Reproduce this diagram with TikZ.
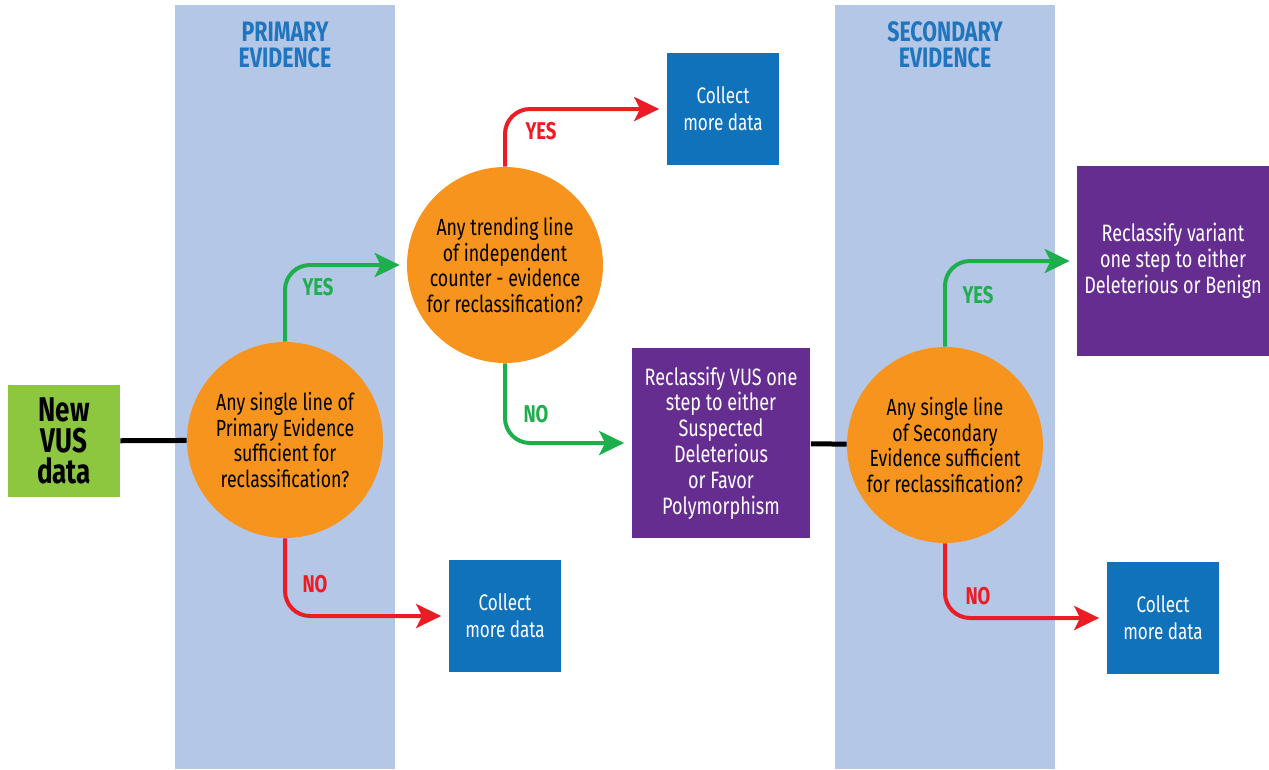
\documentclass[tikz,border=0pt]{standalone}
\usepackage{fontspec}
\setmainfont{Fira Sans}[FakeStretch=0.76]
\usepackage{xcolor}
\usetikzlibrary{positioning, arrows.meta}

\definecolor{bandblue}{HTML}{B4C7E7}
\definecolor{titleblue}{HTML}{1F75BE}
\definecolor{qorange}{HTML}{F7941E}
\definecolor{newgreen}{HTML}{8DC63F}
\definecolor{boxblue}{HTML}{0F72BA}
\definecolor{boxpurple}{HTML}{662D91}
\definecolor{yesgreen}{HTML}{1DAF4B}
\definecolor{nored}{HTML}{EC1C24}

\begin{document}
\begin{tikzpicture}[
    x=0.02cm, y=-0.02cm,
    band/.style={fill=bandblue, draw=none},
    bandtitle/.style={align=center, text=titleblue, font=\fontsize{16}{14.8}\selectfont\bfseries},
    question/.style={circle, fill=qorange, minimum size=3.92cm, inner sep=0pt,
                     align=center, font=\fontsize{13.3}{14.7}\selectfont},
    start/.style={fill=newgreen, minimum width=2.24cm, minimum height=2.24cm,
                  align=center, font=\fontsize{19.5}{17.6}\selectfont\bfseries},
    collect/.style={fill=boxblue, text=white, minimum width=2.26cm, minimum height=2.24cm,
                    align=center, font=\fontsize{12.8}{15.3}\selectfont},
    reclass/.style={fill=boxpurple, text=white, minimum height=3.8cm,
                    align=center, font=\fontsize{13.5}{14.7}\selectfont},
    yesarrow/.style={draw=yesgreen, line width=0.08cm, rounded corners=0.5cm,
                     -{Stealth[length=0.5cm, width=0.48cm, inset=0.12cm]}, shorten >=0.14cm},
    noarrow/.style={draw=nored, line width=0.08cm, rounded corners=0.5cm,
                    -{Stealth[length=0.5cm, width=0.48cm, inset=0.12cm]}, shorten >=0.14cm},
    link/.style={draw=black, line width=0.1cm},
    yeslabel/.style={text=yesgreen, font=\fontsize{13.8}{14}\selectfont\bfseries},
    nolabel/.style={text=nored, font=\fontsize{13.8}{14}\selectfont\bfseries}
]
    \useasboundingbox (0,0) rectangle (1269,769);
    \fill[band] (175,5) rectangle (395,769);
    \fill[band] (835,5) rectangle (1055,769);
    \node[bandtitle] (primary)   at (285,45) {PRIMARY\\EVIDENCE};
    \node[bandtitle] (secondary) at (945,45) {SECONDARY\\EVIDENCE};

    \node[start] (new) at (64,441) {New\\VUS\\data};
    \node[question] (q1) at (285,440) {Any single line of\\Primary Evidence\\sufficient for\\reclassification?};
    \node[question] (q2) at (505,265) {Any trending line\\of independent\\counter - evidence\\for reclassification?};
    \node[question] (q3) at (945,445) {Any single line\\of Secondary\\Evidence sufficient\\for reclassification?};

    \node[collect] (collecttop)   at (723,109) {Collect\\more data};
    \node[collect] (collectleft)  at (505,616) {Collect\\more data};
    \node[collect] (collectright) at (1163,618) {Collect\\more data};

    \node[reclass, minimum width=3.58cm] (reclassvus) at (721,443)
        {Reclassify VUS one\\step to either\\Suspected\\Deleterious\\or Favor\\Polymorphism};
    \node[reclass, minimum width=3.84cm] (reclassvar) at (1173,261)
        {Reclassify variant\\one step to either\\Deleterious or Benign};

    \draw[link] (new) -- (q1);
    \draw[link] (reclassvus) -- (q3);

    \draw[yesarrow] (q1.north) |- (q2.west);
    \draw[noarrow]  (q1.south) |- (collectleft.west);
    \draw[noarrow]  (q2.north) |- (collecttop.west);
    \draw[yesarrow] (q2.south) |- (reclassvus.west);
    \draw[yesarrow] (q3.north) |- (reclassvar.west);
    \draw[noarrow]  (q3.south) |- (collectright.west);

    \node[yeslabel] (yes1) at (318,287) {YES};
    \node[nolabel]  (no1)  at (315,584) {NO};
    \node[nolabel]  (yes2) at (541,131) {YES};
    \node[yeslabel] (no2)  at (536,414) {NO};
    \node[yeslabel] (yes3) at (978,295) {YES};
    \node[nolabel]  (no3)  at (978,596) {NO};
\end{tikzpicture}
\end{document}
